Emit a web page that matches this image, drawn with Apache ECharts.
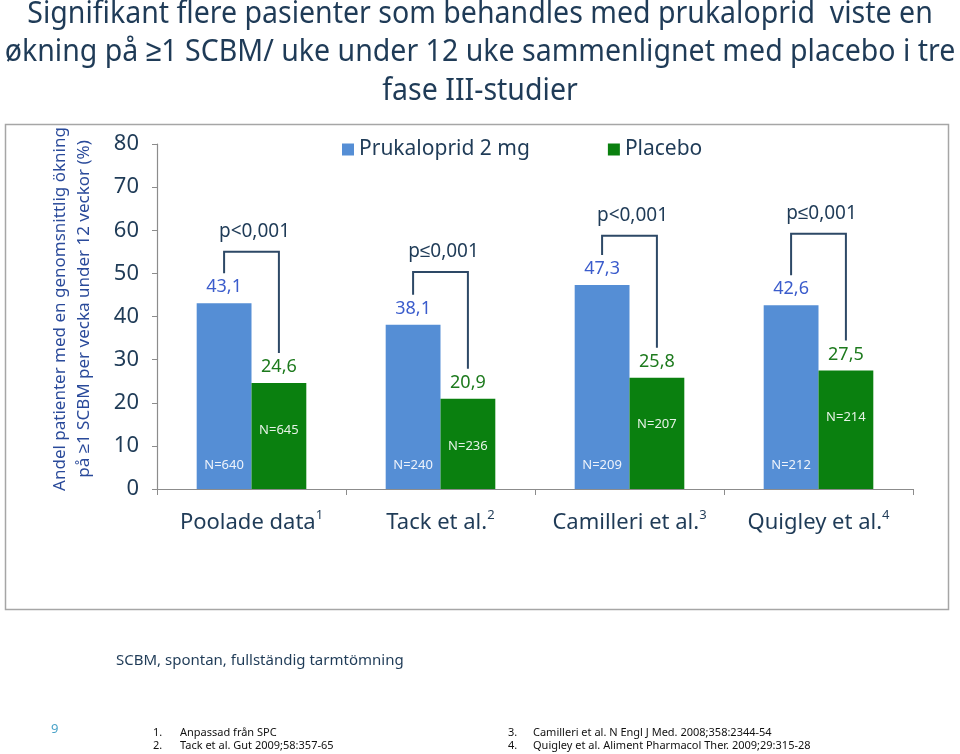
<!doctype html>
<html>
<head>
<meta charset="utf-8">
<title>Prukaloprid vs placebo</title>
<script src="https://cdn.jsdelivr.net/npm/echarts@6/dist/echarts.min.js"></script>
<style>html,body{margin:0;background:#fff}#chart{width:960px;height:754px}</style>
</head>
<body>
<div id="chart"></div>
<script>
// data
const studies = ["Poolade data", "Tack et al.", "Camilleri et al.", "Quigley et al."];
const refNums = ["1", "2", "3", "4"];
const prucalopride = [43.1, 38.1, 47.3, 42.6];
const placebo = [24.6, 20.9, 25.8, 27.5];
const nPrucalopride = ["N=640", "N=240", "N=209", "N=212"];
const nPlacebo = ["N=645", "N=236", "N=207", "N=214"];
const pValues = ["p<0,001", "p≤0,001", "p<0,001", "p≤0,001"];
const bracketTop = [55, 50.3, 58.7, 59.2];
const yTicks = [0, 10, 20, 30, 40, 50, 60, 70, 80];
const titleLines = [
  "Signifikant flere pasienter som behandles med prukaloprid  viste en",
  "økning på ≥1 SCBM/ uke under 12 uke sammenlignet med placebo i tre",
  "fase III-studier"
];

const FONT = "'Noto Sans', sans-serif";
const NAVY = "#1f3b57";
const BLUE = "#558ed5";
const GREEN = "#0a800f";
const CAT_GAP = 0.42;

const chart = echarts.init(document.getElementById("chart"));

// brackets, p-values and N labels: one custom item per study
function renderBracket(params, api) {
  const i = params.dataIndex;
  const base = api.coord([i, 0]);
  const band = api.size([1, 0])[0];
  const bw = band * (1 - CAT_GAP) / 2;
  const xb = base[0] - bw / 2;
  const xg = base[0] + bw / 2;
  const yTop = api.coord([i, bracketTop[i]])[1];
  const yB = api.coord([i, prucalopride[i]])[1] - 30;
  const yGbar = api.coord([i, placebo[i]])[1];
  const yG = yGbar - 30;
  return {
    type: "group",
    children: [
      {
        type: "polyline",
        shape: { points: [[xb, yB], [xb, yTop], [xg, yTop], [xg, yG]] },
        style: { stroke: "#2d4866", lineWidth: 2, fill: null }
      },
      {
        type: "text",
        x: base[0] + 3, y: yTop - 20,
        style: { text: pValues[i], font: "19px " + FONT, fill: NAVY, align: "center", verticalAlign: "middle" }
      },
      {
        type: "text",
        x: xb, y: base[1] - 24,
        style: { text: nPrucalopride[i], font: "13px " + FONT, fill: "#eef3fb", align: "center", verticalAlign: "middle" }
      },
      {
        type: "text",
        x: xg, y: yGbar + 47,
        style: { text: nPlacebo[i], font: "13px " + FONT, fill: "#e6f2e6", align: "center", verticalAlign: "middle" }
      }
    ]
  };
}

// title drawn as three condensed lines (the slide font is narrow)
const titleGraphics = titleLines.map((t, k) => ({
  type: "text",
  x: 480, y: 14 + k * 38.5,
  scaleX: 0.92,
  style: { text: t, font: "31px " + FONT, fill: NAVY, align: "center", verticalAlign: "middle" }
}));

const option = {
  animation: false,
  textStyle: { fontFamily: FONT },
  legend: {
    data: ["Prukaloprid 2 mg", "Placebo"],
    left: 337,
    top: 134,
    icon: "rect",
    itemWidth: 12,
    itemHeight: 12,
    itemGap: 78,
    textStyle: { fontFamily: FONT, fontSize: 21, color: NAVY }
  },
  grid: { left: 157, right: 47, top: 144, bottom: 265, containLabel: false },
  xAxis: {
    type: "category",
    data: studies,
    axisLine: { lineStyle: { color: "#8c8c8c", width: 1.2 } },
    axisTick: { show: true, length: 6, lineStyle: { color: "#8c8c8c" } },
    axisLabel: {
      margin: 20,
      formatter: (v, idx) => "{a|" + v + "}{s|" + refNums[idx] + "}",
      rich: {
        a: { fontFamily: FONT, fontSize: 22, color: NAVY, lineHeight: 28 },
        s: { fontFamily: FONT, fontSize: 13, color: NAVY, lineHeight: 28, verticalAlign: "top" }
      }
    }
  },
  yAxis: {
    type: "value",
    min: 0,
    max: 80,
    interval: 10,
    axisLine: { show: true, lineStyle: { color: "#8c8c8c", width: 1.2 } },
    axisTick: { show: true, length: 5, lineStyle: { color: "#8c8c8c" } },
    splitLine: { show: false },
    axisLabel: {
      margin: 18,
      fontFamily: FONT,
      fontSize: 22,
      color: NAVY,
      formatter: (v) => (yTicks.includes(v) ? String(v) : "")
    }
  },
  series: [
    {
      name: "Prukaloprid 2 mg",
      type: "bar",
      data: prucalopride,
      barGap: 0,
      barCategoryGap: CAT_GAP * 100 + "%",
      itemStyle: { color: BLUE },
      label: {
        show: true, position: "top", distance: 7,
        formatter: (p) => String(p.value).replace(".", ","),
        fontFamily: FONT, fontSize: 18, color: "#3b5ccc"
      }
    },
    {
      name: "Placebo",
      type: "bar",
      data: placebo,
      itemStyle: { color: GREEN },
      label: {
        show: true, position: "top", distance: 7,
        formatter: (p) => String(p.value).replace(".", ","),
        fontFamily: FONT, fontSize: 18, color: "#1d7a1d"
      }
    },
    {
      type: "custom",
      renderItem: renderBracket,
      data: studies.map((s, i) => [i, bracketTop[i]]),
      encode: { x: 0, y: 1 },
      z: 5,
      silent: true
    }
  ],
  graphic: titleGraphics.concat([
    {
      type: "rect",
      left: 3, top: 122,
      shape: { width: 943, height: 485 },
      style: { fill: null, stroke: "#a6a6a6", lineWidth: 1.5 },
      z: -1
    },
    {
      type: "text",
      x: 72, y: 309,
      rotation: Math.PI / 2,
      style: {
        text: "Andel patienter med en genomsnittlig ökning\npå ≥1 SCBM per vecka under 12 veckor (%)",
        font: "17px " + FONT, fill: "#2a4a9a", align: "center", verticalAlign: "middle", lineHeight: 24
      }
    },
    {
      type: "text", left: 116, top: 653,
      style: { text: "SCBM, spontan, fullständig tarmtömning", font: "15px " + FONT, fill: NAVY }
    },
    {
      type: "text", left: 51, top: 723,
      style: { text: "9", font: "13px " + FONT, fill: "#4aa3c8" }
    },
    {
      type: "text", left: 153, top: 726,
      style: { text: "1.\n2.", font: "11px " + FONT, fill: "#111", lineHeight: 13 }
    },
    {
      type: "text", left: 180, top: 726,
      style: { text: "Anpassad från SPC\nTack et al. Gut 2009;58:357-65", font: "11px " + FONT, fill: "#111", lineHeight: 13 }
    },
    {
      type: "text", left: 508, top: 726,
      style: { text: "3.\n4.", font: "11px " + FONT, fill: "#111", lineHeight: 13 }
    },
    {
      type: "text", left: 533, top: 726,
      style: { text: "Camilleri et al. N Engl J Med. 2008;358:2344-54\nQuigley et al. Aliment Pharmacol Ther. 2009;29:315-28", font: "11px " + FONT, fill: "#111", lineHeight: 13 }
    }
  ])
};

chart.setOption(option);
</script>
</body>
</html>
